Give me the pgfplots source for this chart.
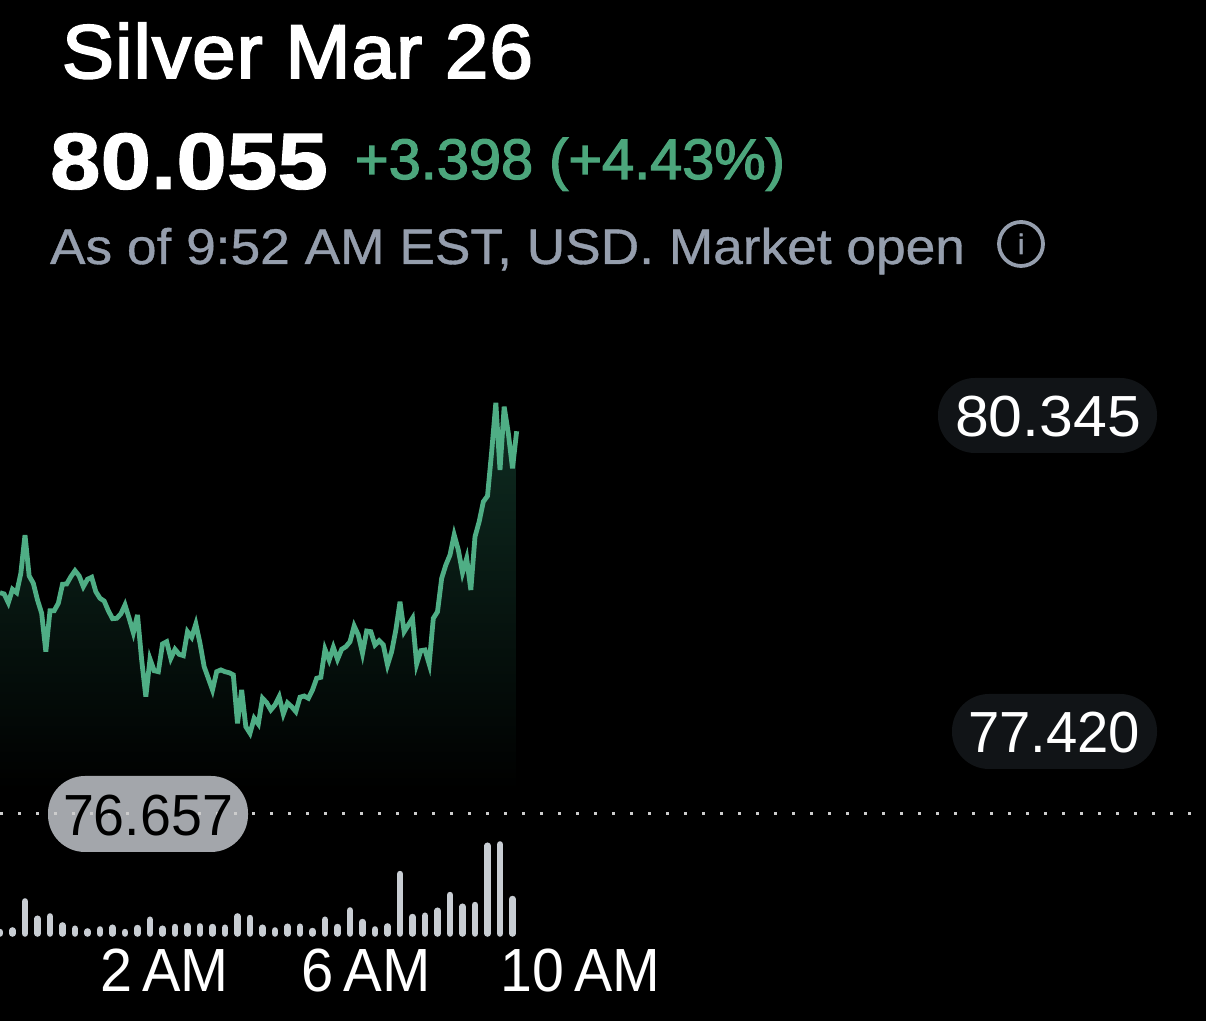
\documentclass[border=0pt]{standalone}
\usepackage{graphicx}
\usepackage{fontspec}
\setmainfont{Liberation Sans}
\newfontfamily\medfont[FakeBold=2.2]{Liberation Sans}
\newfontfamily\grayfont[FakeBold=0.7]{Liberation Sans}
\newfontfamily\titlefont[FakeBold=2.6,LetterSpace=1.5]{Liberation Sans}
\newfontfamily\heavyfont[FakeBold=1.2]{Liberation Sans Bold}
\usepackage{pgfplots}
\usepackage{pgfplotstable}
\pgfplotsset{compat=1.18}
\definecolor{lineg}{HTML}{4FAE85}
\definecolor{txtg}{HTML}{4CA67C}
\definecolor{txtgray}{HTML}{959EAD}
\definecolor{pilld}{HTML}{111417}
\definecolor{pillg}{HTML}{A3A6AB}
\definecolor{barc}{HTML}{C8CDD3}
\definecolor{shadetop}{HTML}{0F2D22}
% font size in px (1 px = 0.5 pt)
\newcommand{\fs}[1]{\fontsize{\dimexpr#1pt/2\relax}{\dimexpr#1pt/2\relax}\selectfont}
% force a width in px
\newcommand{\fw}[2]{\resizebox{\dimexpr#1pt/2\relax}{\height}{#2}}
\pgfplotstableread{
k p
0 78.642
1 78.630
2 78.552
3 78.672
4 78.642
5 78.816
6 79.159
7 78.792
8 78.726
9 78.576
10 78.457
11 78.113
12 78.480
13 78.480
14 78.547
15 78.717
16 78.720
17 78.785
18 78.839
19 78.792
20 78.696
21 78.762
22 78.780
23 78.651
24 78.592
25 78.567
26 78.480
27 78.409
28 78.412
29 78.451
30 78.532
31 78.412
32 78.283
33 78.442
34 78.038
35 77.709
36 78.047
37 77.942
38 77.933
39 78.182
40 78.202
41 78.053
42 78.134
43 78.089
44 78.077
45 78.292
46 78.242
47 78.361
48 78.188
49 77.978
50 77.874
51 77.769
52 77.933
53 77.949
54 77.933
55 77.924
56 77.904
57 77.470
58 77.769
59 77.440
60 77.381
61 77.515
62 77.464
63 77.695
64 77.655
65 77.590
66 77.635
67 77.709
68 77.554
69 77.653
70 77.619
71 77.575
72 77.704
73 77.715
74 77.695
75 77.769
76 77.874
77 77.883
78 78.134
79 78.038
80 78.152
81 78.044
82 78.134
83 78.157
84 78.202
85 78.343
86 78.262
87 78.098
88 78.298
89 78.292
90 78.173
91 78.211
92 78.173
93 77.993
94 78.113
95 78.307
96 78.560
97 78.292
98 78.352
99 78.412
100 78.002
101 78.122
102 78.128
103 78.002
104 78.412
105 78.471
106 78.771
107 78.890
108 78.980
109 79.160
110 79.025
111 78.821
112 78.950
113 78.666
114 79.144
115 79.279
116 79.458
117 79.509
118 79.906
119 80.345
120 79.742
121 80.310
122 80.071
123 79.757
124 80.090
}\pricedata
\pgfplotstableread{
k v
0 1.4
3 3.0
6 32.0
9 14.7
12 17.0
15 8.0
18 4.7
21 2.0
24 4.0
27 5.7
30 1.4
33 5.4
36 13.7
39 4.7
42 6.4
45 7.4
48 7.0
51 6.4
54 5.7
57 17.0
60 15.4
63 5.7
66 3.0
69 6.7
72 6.7
75 2.4
78 13.7
81 6.4
84 23.0
87 11.4
90 4.0
93 7.0
96 59.4
99 16.4
102 17.7
105 22.7
108 38.4
111 26.7
114 28.4
117 87.7
120 89.0
123 34.4
}\voldata
\pgfplotsset{pricestyle/.style={
  at={(0,115.5pt)},anchor=south west,scale only axis,
  width=603pt,height=395pt,
  xmin=0,xmax=289.44,ymin=76.872,ymax=83.958,
  hide axis,clip=false}}
\begin{document}
\begin{tikzpicture}
\useasboundingbox (0,0) rectangle (603pt,510.5pt);
\fill[black] (0,0) rectangle (603pt,510.5pt);
% shaded area under the price
\begin{axis}[pricestyle]
  \addplot[draw=none,shade,top color=shadetop,bottom color=black] table[x=k,y=p] {\pricedata} \closedcycle;
\end{axis}
\begin{scope}[x=0.5pt,y=-0.5pt,yshift=510.5pt]
  \fill[pilld,rounded corners=18.5pt] (938,378) rectangle (1157,453);
  \fill[pilld,rounded corners=18.5pt] (952,694) rectangle (1157,769);
  \fill[pillg,rounded corners=18.5pt] (48,776) rectangle (248,852);
\end{scope}
% price line and previous close
\begin{axis}[pricestyle]
  \addplot[lineg,line width=2.4pt,miter limit=6] table[x=k,y=p] {\pricedata};
  \addplot[white!80!black,line width=1.5pt,dash pattern=on 1.5pt off 7.5pt] coordinates {(0,76.657) (289.44,76.657)};
\end{axis}
% volume bars and time axis
\begin{axis}[
  at={(0,43.75pt)},anchor=south west,scale only axis,
  width=603pt,height=50pt,
  xmin=0,xmax=289.44,ymin=0,ymax=100,
  axis line style={draw=none},major tick length=0pt,
  ytick=\empty,
  xtick={39.6,87.84,139.3},
  xticklabels={{\fw{128}{2\,AM}},{\fw{129}{6\,AM}},{\fw{159}{10\,AM}}},
  xticklabel style={anchor=base,text=white,font=\fs{61},inner sep=0pt,outer sep=0pt,yshift=-29.25pt},
  clip=false]
  \addplot[barc,ycomb,line cap=round,line width=3.3pt] table[x=k,y=v] {\voldata};
\end{axis}
\begin{scope}[x=0.5pt,y=-0.5pt,yshift=510.5pt,every node/.style={inner sep=0pt,outer sep=0pt,anchor=base west}]
  \node[text=white,font=\fs{76}\titlefont] at (62,78) {\fw{471}{Silver Mar 26}};
  \node[text=white,font=\fs{80}\heavyfont] at (50,189) {\fw{278}{80.055}};
  \node[text=txtg,font=\fs{57}\medfont] at (355,179) {\fw{430}{+3.398 (+4.43\%)}};
  \node[text=txtgray,font=\fs{50}\grayfont] at (50,264) {\fw{915}{As of 9:52 AM EST, USD. Market open}};
  \draw[txtgray,line width=1.9pt] (1021,244) circle (22);
  \node[text=txtgray,font=\fs{28}\medfont] at (1018,254) {i};
  \node[text=white,font=\fs{58}] at (955,437) {\fw{186}{80.345}};
  \node[text=white,font=\fs{58}] at (968,753) {\fw{172}{77.420}};
  \node[text=black,font=\fs{58}] at (63,836) {\fw{170}{76.657}};
\end{scope}
\end{tikzpicture}
\end{document}
